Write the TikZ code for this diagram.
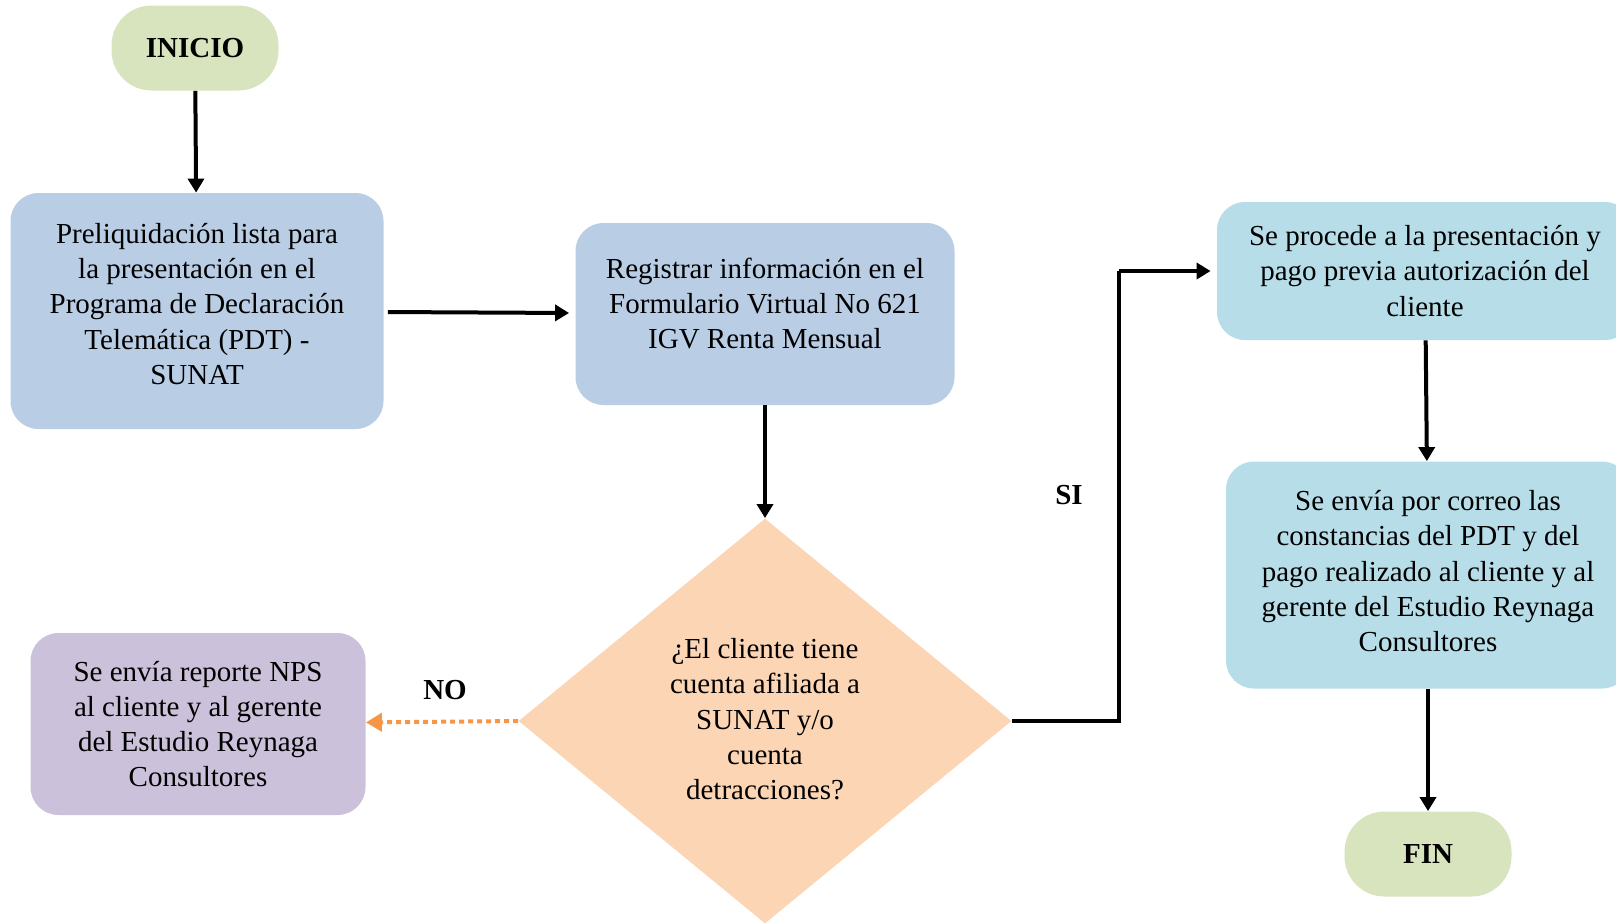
\documentclass[tikz,border=0pt]{standalone}
\usepackage{fontspec}
\setmainfont{Liberation Serif}
\usetikzlibrary{shapes.geometric,arrows.meta}

\definecolor{verdeini}{HTML}{D7E4BD}
\definecolor{azulproc}{HTML}{B9CDE5}
\definecolor{celeste}{HTML}{B7DDE8}
\definecolor{durazno}{HTML}{FCD5B5}
\definecolor{lila}{HTML}{CCC1DA}
\definecolor{naranja}{HTML}{F79646}

\tikzset{
  caja/.style={rectangle, rounded corners=14pt, align=center, inner sep=2pt,
    font=\fontsize{14.5}{17.6}\selectfont},
  terminal/.style={rectangle, rounded corners=20pt, fill=verdeini, align=center,
    font=\fontsize{14.5}{17.6}\selectfont\bfseries,
    minimum width=83.5pt, minimum height=42.5pt},
  flecha/.style={line width=2pt, -{Triangle[length=7pt,width=8pt]}},
  etiqueta/.style={font=\fontsize{14.5}{17.6}\selectfont\bfseries}
}

\begin{document}
\begin{tikzpicture}[x=0.5pt,y=-0.5pt]
\useasboundingbox (0,0) rectangle (1616,923);

\node[terminal] (inicio) at (195,48) {INICIO};
\node[caja, fill=azulproc, text depth=7.2pt, minimum width=186.5pt, minimum height=118pt] (pre) at (197,311)
  {Preliquidación lista para\\la presentación en el\\Programa de Declaración\\Telemática (PDT) -\\SUNAT};
\node[caja, fill=azulproc, text depth=11pt, minimum width=189.5pt, minimum height=91pt] (reg) at (765,314)
  {Registrar información en el\\Formulario Virtual No 621\\IGV Renta Mensual};
\node[diamond, fill=durazno, aspect=1.22, inner sep=0pt, text depth=2pt, minimum width=246.5pt,
  minimum height=202.5pt, align=center, font=\fontsize{14.5}{17.6}\selectfont] (dec) at (765,721)
  {¿El cliente tiene\\cuenta afiliada a\\SUNAT y/o\\cuenta\\detracciones?};
\node[caja, fill=lila, minimum width=167.5pt, minimum height=91pt] (nps) at (198,724)
  {Se envía reporte NPS\\al cliente y al gerente\\del Estudio Reynaga\\Consultores};
\node[caja, fill=celeste, minimum width=208pt, minimum height=69pt] (proc) at (1425,271)
  {Se procede a la presentación y\\pago previa autorización del\\cliente};
\node[caja, fill=celeste, text depth=4pt, minimum width=202pt, minimum height=113.5pt] (envia) at (1428,575)
  {Se envía por correo las\\constancias del PDT y del\\pago realizado al cliente y al\\gerente del Estudio Reynaga\\Consultores};
\node[terminal] (fin) at (1428,854) {FIN};

\coordinate (codo) at (1119,271);
\node[etiqueta] (si) at (1069,495) {SI};
\node[etiqueta] (no) at (445,690) {NO};

% conectores
\draw[flecha] (inicio) -- (pre);
\draw[flecha, shorten >=3pt, shorten <=2pt] (pre) -- (reg);
\draw[flecha] (reg) -- (dec);
\draw[flecha, -] (dec.east) -| (codo);
\draw[flecha, shorten >=3pt] (codo) -- (proc);
\draw[flecha] (proc) -- (envia);
\draw[flecha] (envia) -- (fin);
\draw[line width=2pt, naranja, dash pattern=on 2.5pt off 2pt,
  -{Triangle[length=8pt,width=9pt]}] (dec.west) -- (nps);
\end{tikzpicture}
\end{document}
